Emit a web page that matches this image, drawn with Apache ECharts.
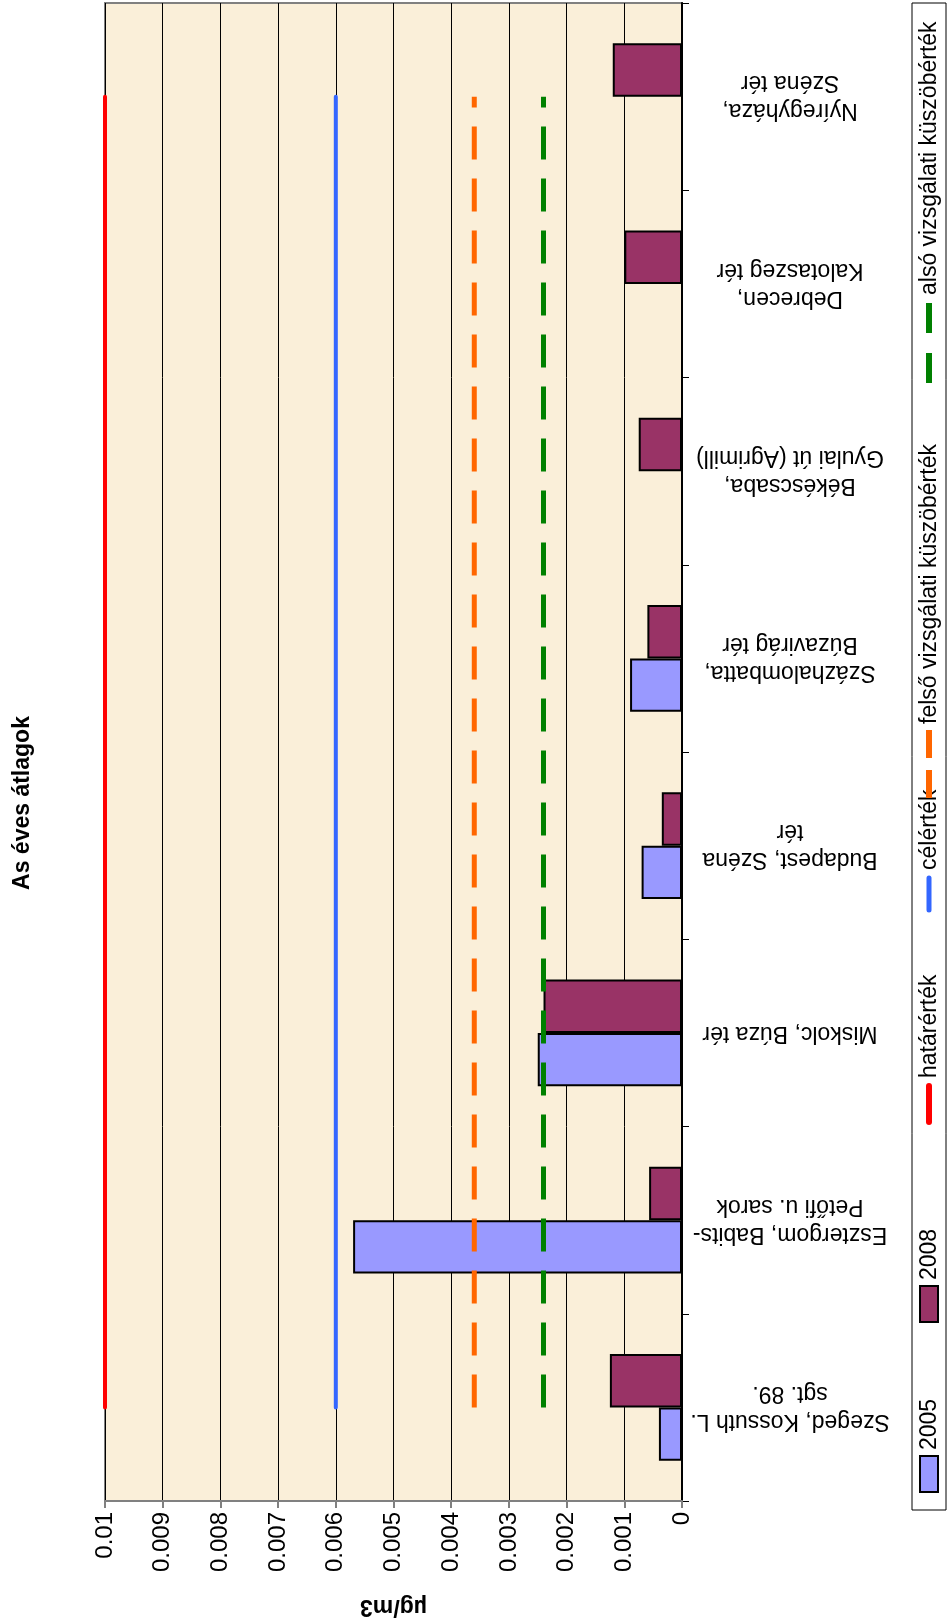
<!DOCTYPE html>
<html>
<head>
<meta charset="utf-8">
<script src="https://cdn.jsdelivr.net/npm/echarts@6/dist/echarts.min.js"></script>
<style>
html,body{margin:0;padding:0;background:#fff;}
#chart{width:948px;height:1623px;}
</style>
</head>
<body>
<div id="chart"></div>
<script>
// ---- data ----
const categories = [
  'Szeged, Kossuth L.\nsgt. 89.',
  'Esztergom, Babits-\nPetőfi u. sarok',
  'Miskolc, Búza tér',
  'Budapest, Széna\ntér',
  'Százhalombatta,\nBúzavirág tér',
  'Békéscsaba,\nGyulai út (Agrimill)',
  'Debrecen,\nKalotaszeg tér',
  'Nyíregyháza,\nSzéna tér'
];
const values2005 = [0.0004, 0.0057, 0.0025, 0.0007, 0.0009, null, null, null];
const values2008 = [0.00125, 0.00057, 0.0024, 0.00035, 0.0006, 0.00075, 0.001, 0.0012];
const hatarertek = [0.01, 0.01, 0.01, 0.01, 0.01, 0.01, 0.01, 0.01];
const celertek = [0.006, 0.006, 0.006, 0.006, 0.006, 0.006, 0.006, 0.006];
const felso = [0.0036, 0.0036, 0.0036, 0.0036, 0.0036, 0.0036, 0.0036, 0.0036];
const also = [0.0024, 0.0024, 0.0024, 0.0024, 0.0024, 0.0024, 0.0024, 0.0024];
const tickLabels = ['0', '0.001', '0.002', '0.003', '0.004', '0.005', '0.006', '0.007', '0.008', '0.009', '0.01'];
const seriesNames = ['2005', '2008', 'határérték', 'célérték', 'felső vizsgálati küszöbérték', 'alsó vizsgálati küszöbérték'];
const titleText = 'As éves átlagok';
const unitText = 'µg/m3';

// ---- style ----
const FONT = "'Liberation Sans', Arial, sans-serif";
const C2005 = '#9999FF', C2008 = '#993366';
const CRED = '#FF0000', CBLUE = '#3366FF', CORANGE = '#FF6600', CGREEN = '#008000';

const chart = echarts.init(document.getElementById('chart'), null, {renderer: 'canvas'});

// legend drawn as a rotated graphic group (text reads bottom-to-top)
const LX0 = 912, LY0 = 1510, LLEN = 1507, LW = 34;
const mid = LW / 2;
const LFONT = '23px ' + FONT;
function legendText(x, t) {
  return {type: 'text', style: {x: x, y: mid + 1, text: t, font: LFONT, fill: '#000', verticalAlign: 'middle'}};
}
const legendChildren = [
  {type: 'rect', shape: {x: 0, y: 0, width: LLEN, height: LW}, style: {fill: '#fff', stroke: '#000', lineWidth: 1}},
  {type: 'rect', shape: {x: 18, y: mid - 9, width: 36, height: 18}, style: {fill: C2005, stroke: '#000', lineWidth: 2}},
  legendText(60, seriesNames[0]),
  {type: 'rect', shape: {x: 188, y: mid - 9, width: 36, height: 18}, style: {fill: C2008, stroke: '#000', lineWidth: 2}},
  legendText(230, seriesNames[1]),
  {type: 'line', shape: {x1: 388, y1: mid, x2: 424, y2: mid}, style: {stroke: CRED, lineWidth: 6, lineCap: 'round'}},
  legendText(432, seriesNames[2]),
  {type: 'line', shape: {x1: 600, y1: mid, x2: 632, y2: mid}, style: {stroke: CBLUE, lineWidth: 5, lineCap: 'round'}},
  legendText(640, seriesNames[3]),
  {type: 'line', shape: {x1: 712, y1: mid, x2: 780, y2: mid}, style: {stroke: CORANGE, lineWidth: 6, lineDash: [28, 12]}},
  legendText(786, seriesNames[4]),
  {type: 'line', shape: {x1: 1127, y1: mid, x2: 1209, y2: mid}, style: {stroke: CGREEN, lineWidth: 6, lineDash: [30, 20]}},
  legendText(1215, seriesNames[5])
];

const dashed = [33, 19];

const option = {
  animation: false,
  backgroundColor: '#fff',
  grid: {
    left: 105, right: 266, top: 3, bottom: 109,
    show: true, backgroundColor: '#FAEFD9', borderColor: '#808080', borderWidth: 2
  },
  xAxis: {
    type: 'value', inverse: true, min: 0, max: 0.01, interval: 0.001, position: 'bottom',
    name: unitText, nameLocation: 'middle', nameGap: 94, nameRotate: 180,
    nameTextStyle: {fontFamily: FONT, fontSize: 23, fontWeight: 'bold', color: '#000'},
    axisLine: {show: true, lineStyle: {color: '#808080', width: 2}},
    axisTick: {show: true, length: 7, lineStyle: {color: '#808080', width: 2}},
    axisLabel: {
      rotate: 90, margin: 11, fontFamily: FONT, fontSize: 24, color: '#000',
      formatter: function (v) { return tickLabels[Math.round(v / 0.001)]; }
    },
    splitLine: {show: true, lineStyle: {color: '#000', width: 1}}
  },
  yAxis: {
    type: 'category', data: categories, position: 'right', boundaryGap: true,
    axisLine: {show: true, onZero: false, lineStyle: {color: '#000', width: 2}},
    axisTick: {show: true, length: 7, lineStyle: {color: '#000', width: 1}},
    axisLabel: {
      rotate: 180, margin: 108, align: 'center', verticalAlign: 'middle',
      fontFamily: FONT, fontSize: 23, color: '#000', lineHeight: 28
    },
    splitLine: {show: false}
  },
  series: [
    {name: seriesNames[1], type: 'bar', data: values2008, barGap: '0%', barCategoryGap: '43%',
     itemStyle: {color: C2008, borderColor: '#000', borderWidth: 2}},
    {name: seriesNames[0], type: 'bar', data: values2005, barGap: '0%', barCategoryGap: '43%',
     itemStyle: {color: C2005, borderColor: '#000', borderWidth: 2}},
    {name: seriesNames[2], type: 'line', data: hatarertek, symbol: 'none', z: 5,
     lineStyle: {color: CRED, width: 4, cap: 'round'}},
    {name: seriesNames[3], type: 'line', data: celertek, symbol: 'none', z: 5,
     lineStyle: {color: CBLUE, width: 4, cap: 'round'}},
    {name: seriesNames[4], type: 'line', data: felso, symbol: 'none', z: 5,
     lineStyle: {color: CORANGE, width: 5, type: dashed, cap: 'butt'}},
    {name: seriesNames[5], type: 'line', data: also, symbol: 'none', z: 5,
     lineStyle: {color: CGREEN, width: 5, type: dashed, cap: 'butt'}}
  ],
  graphic: [
    {type: 'text', x: 23, y: 803, rotation: Math.PI / 2,
     style: {text: titleText, font: 'bold 23px ' + FONT, fill: '#000', textAlign: 'center', verticalAlign: 'middle'}},
    {type: 'group', x: LX0, y: LY0, rotation: Math.PI / 2, children: legendChildren}
  ]
};
chart.setOption(option);
</script>
</body>
</html>
